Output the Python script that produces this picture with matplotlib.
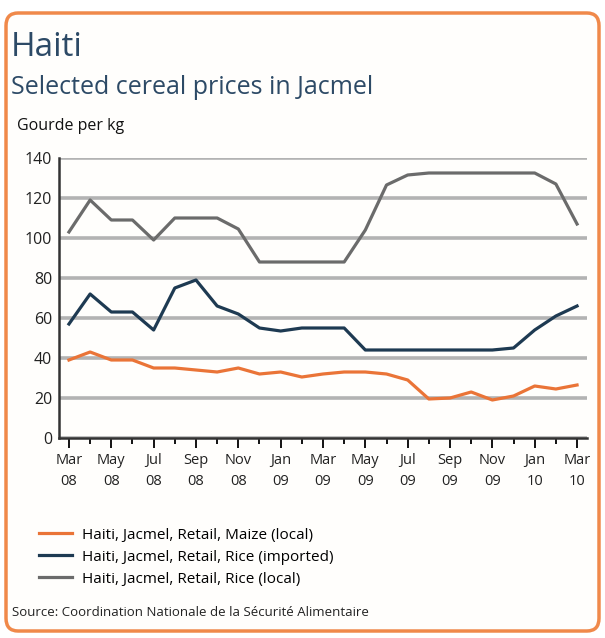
import matplotlib.pyplot as plt
from matplotlib.patches import FancyBboxPatch
from matplotlib.ticker import MultipleLocator

# monthly prices, Mar 2008 .. Mar 2010 (gourde per kg)
months = ["Mar 08", "Apr 08", "May 08", "Jun 08", "Jul 08", "Aug 08", "Sep 08",
          "Oct 08", "Nov 08", "Dec 08", "Jan 09", "Feb 09", "Mar 09", "Apr 09",
          "May 09", "Jun 09", "Jul 09", "Aug 09", "Sep 09", "Oct 09", "Nov 09",
          "Dec 09", "Jan 10", "Feb 10", "Mar 10"]
maize_local = [39, 43, 39, 39, 35, 35, 34, 33, 35, 32, 33, 30.5, 32, 33,
               33, 32, 29, 19.5, 20, 23, 19, 21, 26, 24.5, 26.5]
rice_imported = [57, 72, 63, 63, 54, 75, 79, 66, 62, 55, 53.5, 55, 55, 55,
                 44, 44, 44, 44, 44, 44, 44, 45, 54, 61, 66]
rice_local = [103, 119, 109, 109, 99, 110, 110, 110, 104.5, 88, 88, 88, 88, 88,
              104, 126.5, 131.5, 132.5, 132.5, 132.5, 132.5, 132.5, 132.5, 127, 107]

series_names = ["Haiti, Jacmel, Retail, Maize (local)",
                "Haiti, Jacmel, Retail, Rice (imported)",
                "Haiti, Jacmel, Retail, Rice (local)"]
colors = ["#ea7437", "#1e3a52", "#6b6b6b"]

plt.rcParams['font.family'] = ['Open Sans', 'DejaVu Sans']

fig = plt.figure(figsize=(6.05, 6.38), dpi=100)
fig.patch.set_facecolor("white")

# rounded orange frame, kept behind everything
frame = FancyBboxPatch((6 / 605, 7 / 638), 593 / 605, 618 / 638,
                       boxstyle="round,pad=0,rounding_size=0.02",
                       transform=fig.transFigure, facecolor="#fffefc",
                       edgecolor="#f0894a", linewidth=2.5, zorder=-10)
fig.patches.append(frame)

fig.text(11 / 605, 1 - 48 / 638, "Haiti", fontsize=24, color="#2d4a66", va="center")
fig.text(11 / 605, 1 - 88 / 638, "Selected cereal prices in Jacmel", fontsize=18,
         color="#2d4a66", va="center")
fig.text(17 / 605, 1 - 126 / 638, "Gourde per kg", fontsize=11.5, color="#111111",
         va="center")

ax = fig.add_axes([59 / 605, 1 - 438 / 638, 528 / 605, 280 / 638])
ax.set_facecolor("none")

x = list(range(len(months)))
for vals, c, name in zip([maize_local, rice_imported, rice_local], colors, series_names):
    ax.plot(x, vals, color=c, linewidth=2.3, label=name, zorder=3,
            solid_joinstyle="round")

ax.set_ylim(0, 140)
ax.set_xlim(-0.47, len(months) - 1 + 0.47)
ax.set_yticks(range(0, 141, 20))
ax.yaxis.grid(True, color="#b3b3b3", linewidth=2.6)
ax.set_axisbelow(True)

ax.set_xticks(x[::2])
ax.set_xticklabels([m.replace(" ", "\n") for m in months[::2]], fontsize=10.5,
                   linespacing=1.55, color="#222222")
ax.xaxis.set_minor_locator(MultipleLocator(1))
ax.tick_params(axis="x", which="major", length=7, width=1.3, direction="out", pad=4)
ax.tick_params(axis="x", which="minor", length=4, width=1.3, direction="out")
ax.tick_params(axis="y", length=0, labelsize=11.5, pad=5, labelcolor="#222222")

for side in ("top", "right"):
    ax.spines[side].set_visible(False)
for side in ("left", "bottom"):
    ax.spines[side].set_linewidth(1.8)
    ax.spines[side].set_color("#333333")

leg = fig.legend(loc="upper left", bbox_to_anchor=(25 / 605, 1 - 514 / 638),
                 frameon=False, fontsize=11, handlelength=2.2, handletextpad=0.6,
                 labelspacing=0.45)
for line in leg.get_lines():
    line.set_linewidth(2.3)

fig.text(12 / 605, 1 - 612 / 638, "Source: Coordination Nationale de la Sécurité Alimentaire",
         fontsize=9.5, color="#222222", va="center")

fig.savefig("out.png", dpi=100)
